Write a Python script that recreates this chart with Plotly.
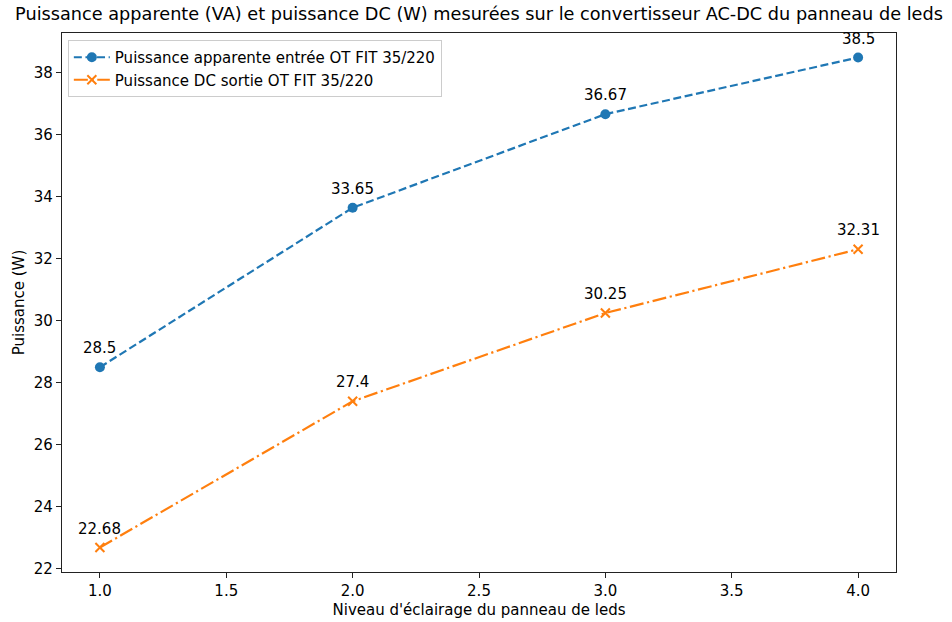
import plotly.graph_objects as go

niveaux = [1.0, 2.0, 3.0, 4.0]
puissance_apparente = [28.5, 33.65, 36.67, 38.5]
puissance_dc = [22.68, 27.4, 30.25, 32.31]
labels_apparente = ["28.5", "33.65", "36.67", "38.5"]
labels_dc = ["22.68", "27.4", "30.25", "32.31"]
x_ticks = [1.0, 1.5, 2.0, 2.5, 3.0, 3.5, 4.0]
x_tick_labels = ["1.0", "1.5", "2.0", "2.5", "3.0", "3.5", "4.0"]
y_ticks = [22, 24, 26, 28, 30, 32, 34, 36, 38]

nom_apparente = "Puissance apparente entrée OT FIT 35/220"
nom_dc = "Puissance DC sortie OT FIT 35/220"

blue = "#1f77b4"
orange = "#ff7f0e"
font = "DejaVu Sans"
fs = 15

fig = go.Figure()
fig.add_trace(go.Scatter(
    x=niveaux, y=puissance_apparente, mode="lines+markers", name=nom_apparente,
    line=dict(color=blue, width=2.2, dash="8px,3.6px"),
    marker=dict(symbol="circle", size=10, color=blue),
))
fig.add_trace(go.Scatter(
    x=niveaux, y=puissance_dc, mode="lines+markers", name=nom_dc,
    line=dict(color=orange, width=2.2, dash="14px,3.6px,2.2px,3.6px"),
    marker=dict(symbol="x-thin", size=9, color=orange, line=dict(color=orange, width=2)),
))

annotations = []
for xs, ys, labs in [(niveaux, puissance_apparente, labels_apparente), (niveaux, puissance_dc, labels_dc)]:
    for xv, yv, t in zip(xs, ys, labs):
        annotations.append(dict(
            x=xv, y=yv, text=t, showarrow=False, xanchor="center", yanchor="bottom",
            yshift=8, font=dict(family=font, size=fs, color="black"),
        ))

axis_common = dict(
    showline=True, linecolor="#222222", linewidth=1.2, mirror=True,
    ticks="outside", ticklen=5, tickcolor="#222222", tickwidth=1.2,
    showgrid=False, zeroline=False, automargin=False,
    tickfont=dict(family=font, size=fs, color="black"),
)

fig.update_layout(
    width=952, height=622,
    paper_bgcolor="white", plot_bgcolor="white",
    margin=dict(l=61.5, r=56, t=33, b=50),
    hovermode=False,
    title=dict(
        text="Puissance apparente (VA) et puissance DC (W) mesurées sur le convertisseur AC-DC du panneau de leds",
        x=0.5, xref="paper", xanchor="center", y=1 - 14 / 622, yanchor="middle",
        font=dict(family=font, size=17.7, color="black"),
    ),
    xaxis=dict(
        range=[0.85, 4.15], tickvals=x_ticks, ticktext=x_tick_labels,
        title=dict(text="Niveau d'éclairage du panneau de leds", font=dict(family=font, size=fs, color="black"), standoff=5),
        **axis_common,
    ),
    yaxis=dict(
        range=[21.889, 39.291], tickvals=y_ticks,
        title=dict(text="Puissance (W)", font=dict(family=font, size=fs, color="black"), standoff=5),
        **axis_common,
    ),
    legend=dict(
        x=0.007, y=0.987, xanchor="left", yanchor="top",
        bgcolor="rgba(255,255,255,0.8)", bordercolor="#cccccc", borderwidth=1,
        font=dict(family=font, size=fs, color="black"),
        tracegroupgap=0, itemwidth=36,
    ),
    annotations=annotations,
    showlegend=True,
)

fig.write_html(
    "out.html",
    config={"displayModeBar": False},
    post_script="document.body.style.margin='0';document.body.style.padding='0';",
)
